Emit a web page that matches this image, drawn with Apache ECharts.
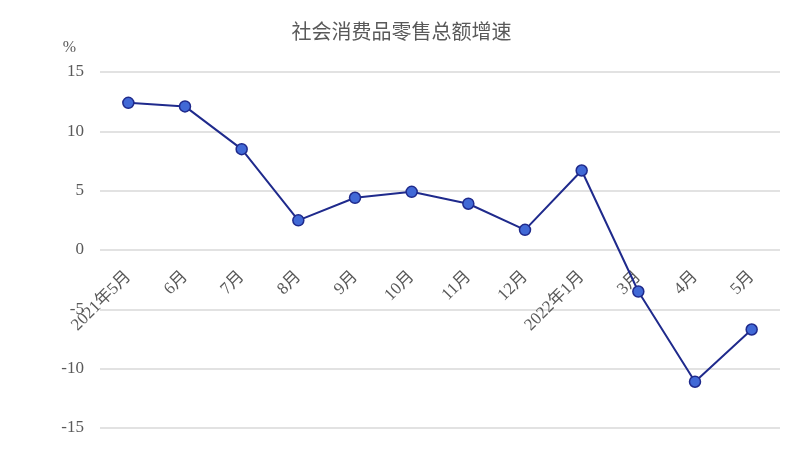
<!DOCTYPE html>
<html><head><meta charset="utf-8">
<script src="https://cdn.jsdelivr.net/npm/echarts@6/dist/echarts.min.js"></script>
<style>html,body{margin:0;padding:0;background:#fff}#c{width:803px;height:452px}</style>
</head><body><div id="c"></div>
<script>
const categories = ['2021年5月','6月','7月','8月','9月','10月','11月','12月','2022年1月','3月','4月','5月'];
const growth = [12.4, 12.1, 8.5, 2.5, 4.4, 4.9, 3.9, 1.7, 6.7, -3.5, -11.1, -6.7];
const yTicks = [-15, -10, -5, 0, 5, 10, 15];

const fontFam = '"Liberation Serif", "Noto Sans CJK SC", serif';
const chart = echarts.init(document.getElementById('c'));
chart.setOption({
  animation: false,
  backgroundColor: '#fff',
  title: {
    text: '社会消费品零售总额增速',
    left: 'center', top: 19,
    textStyle: { fontFamily: fontFam, fontSize: 20, fontWeight: 'normal', color: '#595959' }
  },
  grid: { left: 100, right: 23, top: 72, bottom: 24, containLabel: false, outerBoundsMode: 'none' },
  xAxis: {
    type: 'category',
    data: categories,
    boundaryGap: true,
    offset: -178,
    axisLine: { show: false, onZero: false },
    axisTick: { show: false },
    axisLabel: { rotate: 45, margin: 24, color: '#595959', fontSize: 17, fontFamily: fontFam, interval: 0 },
    splitLine: { show: false }
  },
  yAxis: {
    type: 'value',
    min: yTicks[0], max: yTicks[yTicks.length - 1], interval: 5,
    name: '%',
    nameLocation: 'end',
    nameGap: 16,
    nameTextStyle: { color: '#595959', fontSize: 16, fontFamily: fontFam, align: 'right', padding: [0, 24, 0, 0] },
    axisLine: { show: false },
    axisTick: { show: false },
    axisLabel: { color: '#595959', fontSize: 17, fontFamily: fontFam, margin: 16 },
    splitLine: { lineStyle: { color: '#d9d9d9', width: 1.5 } }
  },
  series: [{
    type: 'line',
    data: growth,
    symbol: 'circle',
    symbolSize: 11,
    lineStyle: { color: '#1f2a8c', width: 2 },
    itemStyle: { color: '#4169d6', borderColor: '#1f2a8c', borderWidth: 1.5 }
  }]
});
</script></body></html>
